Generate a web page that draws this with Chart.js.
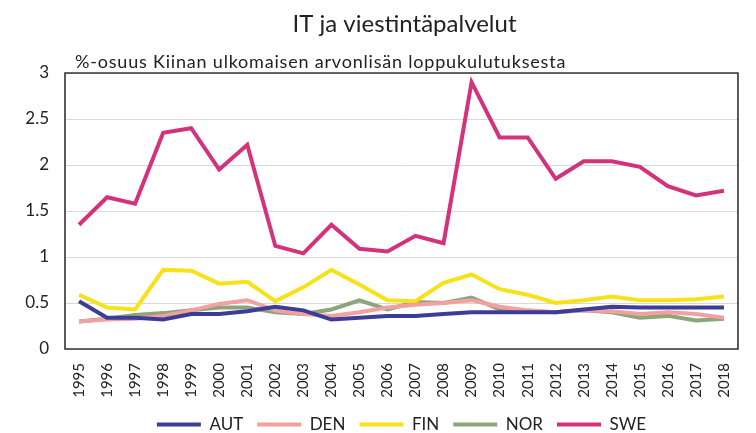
<!DOCTYPE html>
<html>
<head>
<meta charset="utf-8">
<script src="https://cdn.jsdelivr.net/npm/chart.js@4.4.1/dist/chart.umd.min.js"></script>
<style>
  html, body { margin: 0; padding: 0; background: #fff; }
  #wrap { width: 756px; height: 433px; }
</style>
</head>
<body>
<div id="wrap"><canvas id="itChart"></canvas></div>
<script>
// Data
const years = ['1995', '1996', '1997', '1998', '1999', '2000', '2001', '2002', '2003', '2004', '2005', '2006',
  '2007', '2008', '2009', '2010', '2011', '2012', '2013', '2014', '2015', '2016', '2017', '2018'];
const aut = [0.52, 0.34, 0.34, 0.32, 0.38, 0.38, 0.41, 0.46, 0.42, 0.32, 0.34, 0.36,
  0.36, 0.38, 0.40, 0.40, 0.40, 0.40, 0.43, 0.46, 0.45, 0.45, 0.45, 0.45];
const den = [0.30, 0.32, 0.33, 0.36, 0.42, 0.49, 0.53, 0.42, 0.38, 0.36, 0.40, 0.45,
  0.48, 0.50, 0.53, 0.46, 0.42, 0.40, 0.42, 0.41, 0.38, 0.40, 0.38, 0.34];
const fin = [0.59, 0.45, 0.43, 0.86, 0.85, 0.71, 0.73, 0.52, 0.67, 0.86, 0.70, 0.53,
  0.52, 0.72, 0.81, 0.65, 0.59, 0.50, 0.53, 0.57, 0.53, 0.53, 0.54, 0.57];
const nor = [0.30, 0.33, 0.37, 0.39, 0.42, 0.45, 0.45, 0.40, 0.38, 0.43, 0.53, 0.43,
  0.51, 0.50, 0.56, 0.43, 0.41, 0.40, 0.42, 0.40, 0.34, 0.36, 0.31, 0.33];
const swe = [1.35, 1.65, 1.58, 2.35, 2.40, 1.95, 2.22, 1.12, 1.04, 1.35, 1.09, 1.06,
  1.23, 1.15, 2.90, 2.30, 2.30, 1.85, 2.04, 2.04, 1.98, 1.77, 1.67, 1.72];

const FONT = "Lato, 'Open Sans', sans-serif";

function line(label, data, color) {
  return {
    label: label,
    data: data,
    borderColor: color,
    backgroundColor: color,
    borderWidth: 4,
    pointRadius: 0,
    tension: 0
  };
}

// frame around the plot area, title and subtitle
const frameAndTitles = {
  id: 'frameAndTitles',
  afterDraw(chart) {
    const a = chart.chartArea;
    const c = chart.ctx;
    c.save();
    c.beginPath();
    c.moveTo(a.left, a.top);
    c.lineTo(a.right, a.top);
    c.lineTo(a.right, a.bottom);
    c.lineTo(a.left, a.bottom);
    c.closePath();
    c.strokeStyle = '#333333';
    c.lineWidth = 1.6;
    c.stroke();

    c.fillStyle = '#222';
    c.textBaseline = 'alphabetic';
    c.font = "24px " + FONT;
    c.textAlign = 'center';
    c.fillText('IT ja viestintäpalvelut', (a.left + a.right) / 2 + 3, 32);

    c.font = "18px " + FONT;
    c.letterSpacing = '0.8px';
    c.textAlign = 'left';
    c.fillText('%-osuus Kiinan ulkomaisen arvonlisän loppukulutuksesta', a.left + 10, a.top - 5);
    c.restore();
  }
};

const ctx = document.getElementById('itChart').getContext('2d');
const itChart = new Chart(ctx, {
  type: 'line',
  data: {
    labels: years,
    datasets: [
      line('AUT', aut, '#3d3d99'),
      line('DEN', den, '#f2a0a0'),
      line('FIN', fin, '#f7e21a'),
      line('NOR', nor, '#8da57a'),
      line('SWE', swe, '#d5327c')
    ]
  },
  options: {
    responsive: true,
    maintainAspectRatio: false,
    animation: false,
    layout: { padding: { top: 73, right: 2, left: 0, bottom: -10 } },
    plugins: {
      title: { display: false },
      legend: {
        position: 'bottom',
        fullSize: false,
        labels: {
          color: '#222',
          font: { family: FONT, size: 17 },
          boxWidth: 44,
          boxHeight: 4,
          padding: 14,
          generateLabels(chart) {
            const items = Chart.defaults.plugins.legend.labels.generateLabels(chart);
            items.forEach(it => { it.lineWidth = 0; it.fillStyle = it.strokeStyle; });
            return items;
          }
        }
      },
      tooltip: { enabled: false }
    },
    scales: {
      x: {
        offset: true,
        afterFit(scale) { scale.height = 53; },
        grid: { display: false, drawTicks: false },
        border: { display: false },
        ticks: {
          color: '#222',
          font: { family: FONT, size: 15 },
          minRotation: 90,
          maxRotation: 90,
          padding: 14,
          autoSkip: false
        }
      },
      y: {
        min: 0,
        max: 3,
        afterFit(scale) { scale.width = 65; },
        grid: { color: '#d9d9d9', lineWidth: 1, drawTicks: false },
        border: { display: false },
        ticks: {
          stepSize: 0.5,
          color: '#222',
          font: { family: FONT, size: 17 },
          padding: 16,
          callback: v => String(v)
        }
      }
    }
  },
  plugins: [frameAndTitles]
});
</script>
</body>
</html>
